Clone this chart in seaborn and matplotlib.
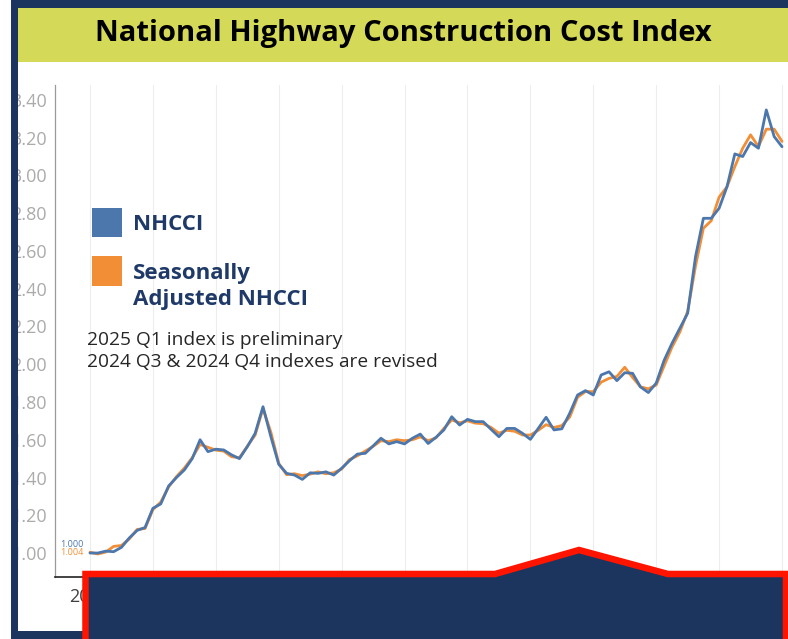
import numpy as np
import pandas as pd
import matplotlib
matplotlib.use("Agg")
import matplotlib.pyplot as plt
import seaborn as sns
from matplotlib.patches import Rectangle, Polygon

# quarterly index, 2003 Q1 = 1.000
quarters = [str(p) for p in pd.period_range("2003Q1", "2025Q1", freq="Q")]

nhcci = [
    1.000, 1.000, 1.010, 1.007, 1.030, 1.080, 1.120, 1.135, 1.237, 1.260,
    1.355, 1.400, 1.440, 1.500, 1.600, 1.537, 1.550, 1.546, 1.520, 1.500,
    1.563, 1.634, 1.775, 1.616, 1.470, 1.422, 1.413, 1.390, 1.425, 1.422,
    1.430, 1.413, 1.449, 1.489, 1.524, 1.528, 1.567, 1.608, 1.578, 1.590,
    1.578, 1.608, 1.630, 1.580, 1.613, 1.652, 1.722, 1.678, 1.708, 1.696,
    1.696, 1.655, 1.616, 1.660, 1.660, 1.634, 1.602, 1.660, 1.719, 1.652,
    1.658, 1.740, 1.837, 1.860, 1.837, 1.943, 1.960, 1.913, 1.955, 1.952,
    1.880, 1.850, 1.900, 2.020, 2.110, 2.190, 2.270, 2.570, 2.773, 2.773,
    2.826, 2.940, 3.114, 3.100, 3.174, 3.144, 3.347, 3.206, 3.152,
]
nhcci_sa = [
    1.004, 0.995, 1.005, 1.035, 1.040, 1.075, 1.125, 1.130, 1.230, 1.270,
    1.350, 1.405, 1.450, 1.505, 1.575, 1.560, 1.545, 1.540, 1.510, 1.505,
    1.565, 1.625, 1.765, 1.640, 1.475, 1.415, 1.420, 1.410, 1.418, 1.430,
    1.420, 1.425, 1.445, 1.495, 1.515, 1.540, 1.565, 1.595, 1.590, 1.600,
    1.595, 1.600, 1.615, 1.595, 1.610, 1.660, 1.705, 1.690, 1.700, 1.688,
    1.685, 1.665, 1.635, 1.650, 1.645, 1.625, 1.625, 1.650, 1.680, 1.665,
    1.675, 1.720, 1.825, 1.855, 1.855, 1.905, 1.925, 1.935, 1.984, 1.930,
    1.880, 1.870, 1.890, 1.990, 2.090, 2.170, 2.280, 2.520, 2.720, 2.760,
    2.885, 2.940, 3.047, 3.144, 3.215, 3.153, 3.245, 3.245, 3.180,
]
# last gridline (2025) has no visible label in the original
year_labels = ["2003", "2005", "2007", "2009", "2011", "2013",
               "2015", "2017", "2019", "2021", "2023", ""]
y_ticks = [1.00, 1.20, 1.40, 1.60, 1.80, 2.00, 2.20, 2.40, 2.60, 2.80, 3.00, 3.20, 3.40]

df = pd.DataFrame({"q": np.arange(len(quarters)),
                   "NHCCI": nhcci,
                   "Seasonally Adjusted NHCCI": nhcci_sa})
long = df.melt(id_vars="q", var_name="series", value_name="index")

BLUE = "#4b77ad"
ORANGE = "#f28e35"
NAVY = "#1c355e"

sns.set_theme(style="white")
plt.rcParams["font.family"] = ["Open Sans", "DejaVu Sans"]

W, H = 788, 639
fig = plt.figure(figsize=(W / 100, H / 100), dpi=100)
fig.patch.set_facecolor("white")

ax = fig.add_axes([55 / W, (H - 577) / H, (W - 55) / W, (577 - 85) / H])

sns.lineplot(data=long, x="q", y="index", hue="series",
             hue_order=["Seasonally Adjusted NHCCI", "NHCCI"],
             palette={"NHCCI": BLUE, "Seasonally Adjusted NHCCI": ORANGE},
             linewidth=2.0, legend=False, ax=ax, zorder=3)

ax.set_xlim(-4.45, 88.76)
ax.set_ylim(0.873, 3.479)
ax.set_xticks(np.arange(0, len(quarters), 8))
ax.set_xticklabels(year_labels, fontsize=13, color="#404040")
ax.set_yticks(y_ticks)
ax.set_yticklabels([f"{v:.2f}" for v in y_ticks], fontsize=13, color="#ababab")
ax.tick_params(axis="y", length=0, pad=6)
ax.tick_params(axis="x", length=0, pad=8)
ax.set_xlabel("")
ax.set_ylabel("")
ax.xaxis.grid(True, color="#ededed", linewidth=0.8)
ax.yaxis.grid(False)
for s in ["top", "right"]:
    ax.spines[s].set_visible(False)
ax.spines["left"].set_color("#9a9a9a")
ax.spines["left"].set_linewidth(0.9)
ax.spines["bottom"].set_color("#222222")
ax.spines["bottom"].set_linewidth(1.2)

ax.text(-0.8, nhcci[0] + 0.045, f"{nhcci[0]:.3f}", color=BLUE, fontsize=6.5,
        ha="right", va="center")
ax.text(-0.8, nhcci_sa[0] - 0.0, f"{nhcci_sa[0]:.3f}", color=ORANGE, fontsize=6.5,
        ha="right", va="center")

# overlay in pixel coordinates: frame, banner, legend, cover box
ov = fig.add_axes([0, 0, 1, 1])
ov.set_xlim(0, W)
ov.set_ylim(H, 0)
ov.axis("off")
ov.set_zorder(5)

ov.add_patch(Rectangle((11, 0), W - 11, 8, color=NAVY, lw=0))
ov.add_patch(Rectangle((11, 0), 7, H, color=NAVY, lw=0))
ov.add_patch(Rectangle((11, 631), W - 11, 8, color=NAVY, lw=0))
ov.add_patch(Rectangle((18, 8), W - 18, 54, color="#d5d958", lw=0))
ov.text(403, 33, "National Highway Construction Cost Index", fontsize=21,
        fontweight="bold", color="black", ha="center", va="center")

ov.add_patch(Rectangle((92, 208), 30, 29, color=BLUE, lw=0))
ov.add_patch(Rectangle((92, 256), 30, 30, color=ORANGE, lw=0))
ov.text(133, 225, "NHCCI", fontsize=16, fontweight="bold", color="#1f3a68",
        va="center", ha="left")
ov.text(133, 273, "Seasonally", fontsize=16, fontweight="bold", color="#1f3a68",
        va="center", ha="left")
ov.text(133, 300, "Adjusted NHCCI", fontsize=16, fontweight="bold", color="#1f3a68",
        va="center", ha="left")
ov.text(87, 340, "2025 Q1 index is preliminary", fontsize=13.8, color="#262626",
        va="center", ha="left")
ov.text(87, 362, "2024 Q3 & 2024 Q4 indexes are revised", fontsize=13.8,
        color="#262626", va="center", ha="left")

box = Polygon([(85.5, 650), (85.5, 574), (495, 574), (579, 550), (668, 574),
               (786, 574), (786, 650)], closed=True, facecolor=NAVY,
              edgecolor="#ff1400", linewidth=4.7, joinstyle="miter")
ov.add_patch(box)

fig.savefig("out.png", dpi=100)
